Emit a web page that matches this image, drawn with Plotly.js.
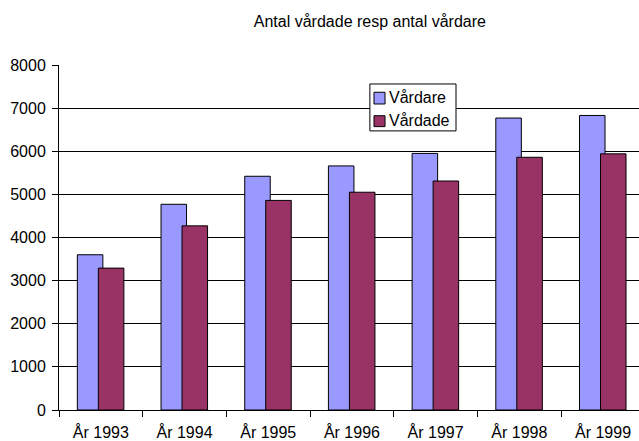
<!DOCTYPE html>
<html>
<head>
<meta charset="utf-8">
<script src="https://cdn.plot.ly/plotly-3.0.1.min.js"></script>
<style>html,body{margin:0;padding:0;background:#fff;overflow:hidden}</style>
</head>
<body>
<div id="chart" style="width:639px;height:441px"></div>
<script>
const categories = ["År 1993", "År 1994", "År 1995", "År 1996", "År 1997", "År 1998", "År 1999"];
const seriesNames = ["Vårdare", "Vårdade"];
const seriesColors = ["#9999FF", "#993366"];
const vardare = [3600, 4770, 5420, 5660, 5950, 6770, 6830];
const vardade = [3290, 4270, 4860, 5050, 5310, 5860, 5940];
const yTicks = [0, 1000, 2000, 3000, 4000, 5000, 6000, 7000, 8000];

const font = {family: "'Liberation Sans', Arial, sans-serif", size: 16, color: "#000"};

const traces = [
  {type: "bar", name: seriesNames[0], x: categories, y: vardare, width: 0.305, offset: -0.281,
   marker: {color: seriesColors[0], line: {color: "#000", width: 1}}},
  {type: "bar", name: seriesNames[1], x: categories, y: vardade, width: 0.305, offset: -0.030,
   marker: {color: seriesColors[1], line: {color: "#000", width: 1}}}
];

// Excel-style compact legend built from the series names/colours
const legX0 = 0.536, legX1 = 0.6845, legY1 = 0.945, legY0 = 0.809;
const swX0 = 0.5431, swX1 = 0.5621;
const swRows = [[0.887, 0.921], [0.8214, 0.853]];
const textY = [0.9045, 0.838];
const shapes = [
  {type: "rect", xref: "paper", yref: "paper", x0: legX0, x1: legX1, y0: legY0, y1: legY1,
   fillcolor: "#fff", line: {color: "#000", width: 1}, layer: "above"}
];
const annotations = [];
seriesNames.forEach((n, i) => {
  shapes.push({type: "rect", xref: "paper", yref: "paper", x0: swX0, x1: swX1, y0: swRows[i][0], y1: swRows[i][1],
               fillcolor: seriesColors[i], line: {color: "#000", width: 1}, layer: "above"});
  annotations.push({xref: "paper", yref: "paper", x: 0.5655, y: textY[i], xanchor: "left", yanchor: "middle",
                    text: n, showarrow: false, font: font});
});

const layout = {
  width: 639, height: 441,
  margin: {l: 59, r: 0, t: 65, b: 30.5, pad: 0},
  paper_bgcolor: "#fff", plot_bgcolor: "#fff",
  font: font,
  barmode: "overlay",
  showlegend: false,
  title: {text: "Antal vårdade resp antal vårdare", font: {family: font.family, size: 16, color: "#000"},
          x: 0.536, xref: "paper", xanchor: "center", y: 0.952, yref: "container", yanchor: "middle"},
  xaxis: {type: "category", range: [-0.5, 6.43], tickson: "boundaries", ticks: "outside", ticklen: 6,
          tickcolor: "#000", showline: true, linecolor: "#000", linewidth: 1, showgrid: false,
          tickfont: font, ticklabelstandoff: 8, fixedrange: true},
  yaxis: {range: [0, 8000], tickvals: yTicks, ticktext: yTicks.map(String), ticks: "outside", ticklen: 6,
          tickcolor: "#000", showline: true, linecolor: "#000", linewidth: 1, showgrid: true,
          gridcolor: "#000", gridwidth: 1, zeroline: false, tickfont: font, ticklabelstandoff: 3, fixedrange: true},
  shapes: shapes,
  annotations: annotations
};

Plotly.newPlot("chart", traces, layout, {displayModeBar: false, staticPlot: true});
</script>
</body>
</html>
